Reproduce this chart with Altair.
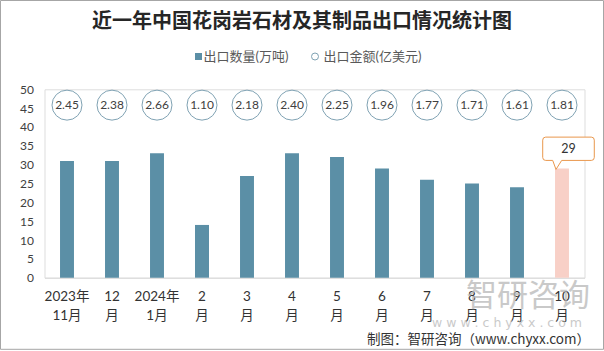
import altair as alt
import pandas as pd

months = ["2023年|11月", "12|月", "2024年|1月", "2|月", "3|月", "4|月",
          "5|月", "6|月", "7|月", "8|月", "9|月", "10|月"]
qty = [31, 31, 33, 14, 27, 33, 32, 29, 26, 25, 24, 29]
amount = [2.45, 2.38, 2.66, 1.10, 2.18, 2.40, 2.25, 1.96, 1.77, 1.71, 1.61, 1.81]
y_ticks = [0, 5, 10, 15, 20, 25, 30, 35, 40, 45, 50]
legend_labels = ["出口数量(万吨)", "出口金额(亿美元)"]
title_text = "近一年中国花岗岩石材及其制品出口情况统计图"
footer_text = "制图：智研咨询（www.chyxx.com）"
wm_big = "智研咨询"
wm_small = "w w w . c h y x x . c o m"

df = pd.DataFrame({"month": months, "qty": qty, "amount": amount})
df["amt_label"] = [f"{v:.2f}" for v in amount]

TEAL = "#5B8FA6"
PINK = "#F8D0C7"
ORANGE = "#E9974C"
CJK = "Lato, 'Noto Sans CJK SC', sans-serif"

x_enc = alt.X("month:N", sort=months, title=None,
              scale=alt.Scale(paddingInner=0.69, paddingOuter=0.345),
              axis=alt.Axis(labelAngle=0, labelExpr="split(datum.label, '|')",
                            labelLineHeight=19, labelPadding=12, labelFontSize=13.5,
                            labelColor="#333333", labelFont=CJK, ticks=False,
                            domainColor="#D9D9D9", domainWidth=1, grid=False))
y_scale = alt.Scale(domain=[0, 50], nice=False)
y_axis = alt.Axis(values=y_ticks, domain=False, ticks=False, grid=False, labelPadding=11,
                  labelFontSize=12, labelOverlap=False, labelColor="#404040", labelFont=CJK,
                  title=None)

base = alt.Chart(df)

bars = base.mark_bar().encode(
    x=x_enc,
    y=alt.Y("qty:Q", scale=y_scale, title=None, axis=y_axis),
    color=alt.condition(alt.datum.month == months[-1], alt.value(PINK), alt.value(TEAL)),
)

y_circ = alt.Y(datum=45.8, type="quantitative", scale=y_scale, axis=y_axis)
circles = base.mark_point(shape="circle", size=900, filled=True, fill="white",
                          stroke="#7FA2B3", strokeWidth=1, opacity=1).encode(
    x=alt.X("month:N", sort=months), y=y_circ)
circle_text = base.mark_text(fontSize=12, color="#404040", font=CJK).encode(
    x=alt.X("month:N", sort=months), y=y_circ, text="amt_label:N")

callout_path = ("M -0.231 0.038 L -0.012 -0.308 L 1.127 -0.308 Q 1.242 -0.308 1.242 -0.423 "
                "L 1.242 -1.089 Q 1.242 -1.204 1.127 -1.204 L -0.627 -1.204 "
                "Q -0.742 -1.204 -0.742 -1.089 L -0.742 -0.423 Q -0.742 -0.308 -0.627 -0.308 "
                "L -0.358 -0.308 Z")
last = base.transform_filter(alt.datum.month == months[-1])
callout = last.mark_point(shape=callout_path, size=2704, filled=True, fill="white",
                          stroke=ORANGE, strokeWidth=1, opacity=1).encode(
    x=alt.X("month:N", sort=months), y=alt.Y("qty:Q", scale=y_scale, axis=y_axis))
callout_text = last.mark_text(fontSize=12.5, color="#333333", font=CJK, dx=6.5, dy=-19).encode(
    x=alt.X("month:N", sort=months), y=alt.Y("qty:Q", scale=y_scale, axis=y_axis), text="qty:Q")

# legend (manual)
leg_df = pd.DataFrame({"label": legend_labels})
leg1_sym = alt.Chart(leg_df.iloc[[0]]).mark_point(shape="square", filled=True, size=49,
                                                    color=TEAL, opacity=1).encode(
    x=alt.value(198.5 - 44.5), y=alt.value(56.5 - 89.3))
leg1_txt = alt.Chart(leg_df.iloc[[0]]).mark_text(align="left", baseline="middle", fontSize=13,
                                                  color="#595959", font=CJK).encode(
    x=alt.value(203.5 - 44.5), y=alt.value(57 - 89.3), text="label:N")
leg2_sym = alt.Chart(leg_df.iloc[[1]]).mark_point(shape="circle", filled=False, size=49,
                                                    color="#7FA2B3", strokeWidth=1, opacity=1).encode(
    x=alt.value(315 - 44.5), y=alt.value(56.5 - 89.3))
leg2_txt = alt.Chart(leg_df.iloc[[1]]).mark_text(align="left", baseline="middle", fontSize=13,
                                                  color="#595959", font=CJK).encode(
    x=alt.value(323.5 - 44.5), y=alt.value(57 - 89.3), text="label:N")

# watermark & footer
wm_df = pd.DataFrame({"big": [wm_big], "small": [wm_small], "footer": [footer_text]})
wm1 = alt.Chart(wm_df).mark_text(align="left", baseline="middle", fontSize=31, color="#B8B8B8",
                                 opacity=0.75, font="'Noto Sans CJK SC'").encode(
    x=alt.value(466 - 44.5), y=alt.value(297 - 89.3), text="big:N")
wm2 = alt.Chart(wm_df).mark_text(align="left", baseline="middle", fontSize=12.5, color="#B8B8B8",
                                 opacity=0.75, font="'DejaVu Sans'").encode(
    x=alt.value(432 - 44.5), y=alt.value(323 - 89.3), text="small:N")
footer = alt.Chart(wm_df).mark_text(align="right", baseline="middle", fontSize=13.5,
                                    color="#333333", font="'Noto Sans CJK SC'").encode(
    x=alt.value(590 - 44.5), y=alt.value(340 - 89.3), text="footer:N")

frame = alt.Chart(wm_df).mark_rect(fill=None, stroke="#A6A6A6", strokeWidth=1).encode(
    x=alt.value(-44.0), x2=alt.value(559.0), y=alt.value(-88.8), y2=alt.value(260.0))

chart = alt.layer(
    bars, circles, circle_text, callout, callout_text,
    leg1_sym, leg1_txt, leg2_sym, leg2_txt, wm1, wm2, footer, frame
).properties(
    width=540, height=188.4,
    title=alt.TitleParams(title_text, anchor="middle", dx=-12.5, fontSize=20,
                          fontWeight=600, color="#262626", font="'Noto Sans CJK SC'",
                          offset=-32),
    autosize=alt.AutoSizeParams(type="none"),
    padding={"left": 44.5, "top": 89.3, "right": 19.5, "bottom": 73.3},
).configure_view(stroke=None).configure(background="white").configure_axisY(
    labelOverlap=False, values=y_ticks)

chart.save("out.html", embed_options={"renderer": "svg", "actions": False})
